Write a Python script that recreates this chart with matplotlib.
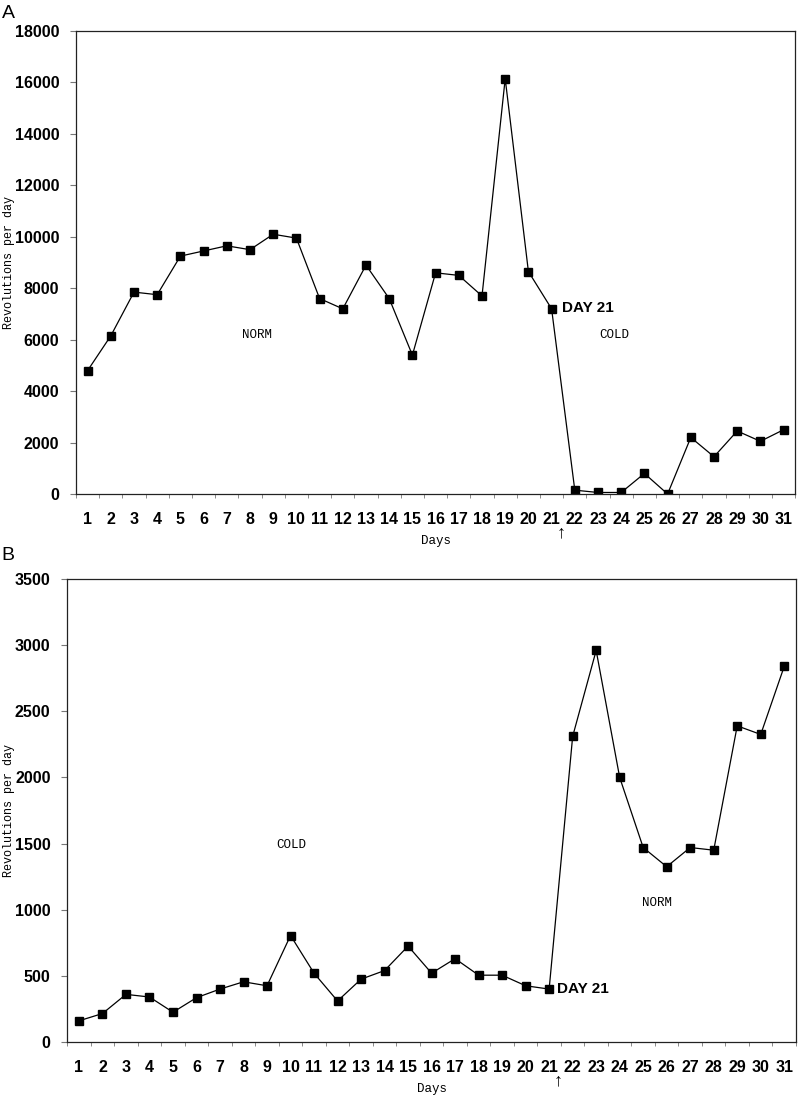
import matplotlib
matplotlib.use("Agg")
import matplotlib.pyplot as plt
import numpy as np

days = list(range(1, 32))

# panel A: normal light then cold from day 22
revs_a = [4800, 6150, 7850, 7750, 9250, 9450, 9650, 9500, 10100, 9950,
          7600, 7200, 8900, 7600, 5400, 8600, 8500, 7700, 16150, 8650,
          7200, 150, 60, 60, 800, 0, 2200, 1450, 2450, 2050, 2500]
# panel B: cold then normal from day 22
revs_b = [160, 215, 360, 340, 225, 335, 400, 455, 425, 805,
          520, 310, 475, 540, 725, 520, 630, 505, 505, 425,
          400, 2310, 2960, 2000, 1470, 1325, 1470, 1450, 2390, 2325, 2840]

yticks_a = list(range(0, 18001, 2000))
yticks_b = list(range(0, 3501, 500))

MONO = "Liberation Mono"
SANS = ["Liberation Sans", "DejaVu Sans"]


def draw_panel(ax, vals, yticks, labels, ylab_x):
    ax.plot(days, vals, color="black", lw=0.9, marker="s", ms=6,
            mfc="black", mec="black")
    ax.set_xlim(0.5, 31.5)
    ax.set_ylim(0, yticks[-1])
    ax.set_yticks(yticks)
    ax.set_yticklabels([str(v) for v in yticks], fontweight="bold",
                       family=SANS, fontsize=11.5)
    ax.set_xticks(days)
    ax.set_xticklabels([str(d) for d in days], fontweight="bold",
                       family=SANS, fontsize=11.5)
    ax.set_xticks(np.arange(0.5, 32, 1), minor=True)
    ax.tick_params(axis="x", which="major", length=0, pad=13)
    ax.tick_params(axis="x", which="minor", length=3, color="#777777")
    ax.tick_params(axis="y", length=4, color="#777777", pad=8)
    for s in ax.spines.values():
        s.set_linewidth(0.9)
        s.set_color("#222222")
    ax.set_xlabel("Days", family=MONO, fontsize=9, labelpad=6)
    ax.set_ylabel("Revolutions per day", family=MONO, fontsize=8.5)
    ax.yaxis.set_label_coords(ylab_x, 0.5)
    for txt, x, y, kw in labels:
        ax.text(x, y, txt, **kw)
    # arrow marking the switch at day 21
    ax.annotate("\u2191", xy=(21.4, 0), xycoords=("data", "axes fraction"),
                xytext=(0, -28), textcoords="offset points",
                ha="center", va="center", fontsize=13, family=SANS)


fig = plt.figure(figsize=(8, 11.01), dpi=100)
fig.patch.set_facecolor("white")

ax_a = fig.add_axes([0.095, 0.5513, 0.899, 0.4205])
ax_b = fig.add_axes([0.084, 0.0536, 0.911, 0.4205])

day_kw = dict(fontweight="bold", family=SANS, fontsize=11, va="center", ha="left")
note_kw = dict(family=MONO, fontsize=9, va="center", ha="center")

draw_panel(ax_a, revs_a, yticks_a, [
    ("DAY 21", 21.45, 7230, day_kw),
    ("NORM", 8.3, 6200, note_kw),
    ("COLD", 23.7, 6180, note_kw),
], -0.085)
draw_panel(ax_b, revs_b, yticks_b, [
    ("DAY 21", 21.35, 400, day_kw),
    ("COLD", 10.05, 1490, note_kw),
    ("NORM", 25.6, 1050, note_kw),
], -0.072)

fig.text(0.002, 0.9955, "A", fontsize=14, family=SANS, va="top", ha="left")
fig.text(0.002, 0.503, "B", fontsize=14, family=SANS, va="top", ha="left")

fig.savefig("out.png", dpi=100, facecolor="white")
plt.close(fig)
